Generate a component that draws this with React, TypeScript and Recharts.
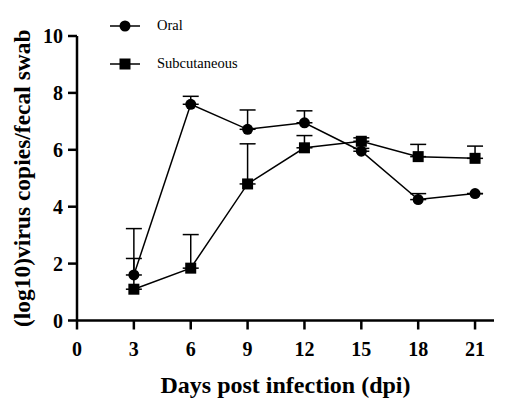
import React from 'react';
import { LineChart, Line, XAxis, YAxis, ErrorBar, Legend, Label } from 'recharts';

const days = [3, 6, 9, 12, 15, 18, 21];
const oralMean = [1.6, 7.6, 6.72, 6.95, 5.95, 4.25, 4.46];
const oralSd = [1.63, 0.28, 0.68, 0.42, 0.1, 0.21, 0];
const subMean = [1.1, 1.84, 4.8, 6.07, 6.3, 5.76, 5.7];
const subSd = [1.08, 1.18, 1.41, 0.43, 0.12, 0.43, 0.43];
const xTicks = [0, 3, 6, 9, 12, 15, 18, 21];
const yTicks = [0, 2, 4, 6, 8, 10];

const data = days.map((d, i) => ({
  day: d,
  oral: oralMean[i],
  oralErr: [0, oralSd[i]],
  sub: subMean[i],
  subErr: [0, subSd[i]],
}));

const FONT = '"Liberation Serif", "Times New Roman", serif';

const SquareDot = (props: any) => {
  const { cx, cy } = props;
  if (cx == null || cy == null) return null;
  return <rect x={cx - 5.5} y={cy - 5.5} width={11} height={11} fill="#000" />;
};

const YLabel = (props: any) => {
  const vb = props.viewBox || {};
  const x = (vb.x || 0) + 22;
  const y = (vb.y || 0) + (vb.height || 0) / 2;
  return (
    <text
      x={x}
      y={y}
      transform={`rotate(-90, ${x}, ${y})`}
      textAnchor="middle"
      dominantBaseline="central"
      fill="#000"
      fontSize={23.5}
      fontWeight="bold"
      fontFamily={FONT}
    >
      (log10)virus copies/fecal swab
    </text>
  );
};

const LegendContent = () => (
  <div style={{ fontFamily: FONT, fontSize: 14.5, color: '#000' }}>
    <div style={{ position: 'absolute', left: 110, top: 17, display: 'flex', alignItems: 'center' }}>
      <svg width={32} height={14}>
        <line x1={0} y1={7} x2={30} y2={7} stroke="#000" strokeWidth={1.5} />
        <circle cx={15} cy={7} r={5.5} fill="#000" />
      </svg>
      <span style={{ marginLeft: 15, whiteSpace: 'nowrap' }}>Oral</span>
    </div>
    <div style={{ position: 'absolute', left: 110, top: 55, display: 'flex', alignItems: 'center' }}>
      <svg width={32} height={14}>
        <line x1={0} y1={7} x2={30} y2={7} stroke="#000" strokeWidth={1.5} />
        <rect x={9.5} y={1.5} width={11} height={11} fill="#000" />
      </svg>
      <span style={{ marginLeft: 15, whiteSpace: 'nowrap' }}>Subcutaneous</span>
    </div>
  </div>
);

export default function App() {
  return (
    <div style={{ position: 'absolute', left: 0, top: 0, width: 514, height: 406, background: '#fff' }}>
      <LineChart
        width={514}
        height={406}
        data={data}
        margin={{ top: 36, right: 20, bottom: 0, left: 0 }}
      >
        <XAxis
          dataKey="day"
          type="number"
          domain={[0, 22]}
          ticks={xTicks}
          interval={0}
          height={85.5}
          tickSize={9}
          tickMargin={12}
          axisLine={{ stroke: '#000', strokeWidth: 2.5 }}
          tickLine={{ stroke: '#000', strokeWidth: 2.5 }}
          tick={{ fill: '#000', fontSize: 20, fontWeight: 'bold', fontFamily: FONT }}
          label={{
            value: 'Days post infection (dpi)',
            position: 'insideBottom',
            offset: 13,
            style: { fill: '#000', fontSize: 24, fontWeight: 'bold', fontFamily: FONT },
          }}
        />
        <YAxis
          type="number"
          domain={[0, 10]}
          ticks={yTicks}
          interval={0}
          width={77}
          tickSize={9}
          tickMargin={5}
          axisLine={{ stroke: '#000', strokeWidth: 2.5 }}
          tickLine={{ stroke: '#000', strokeWidth: 2.5 }}
          tick={{ fill: '#000', fontSize: 20, fontWeight: 'bold', fontFamily: FONT }}
        >
          <Label content={<YLabel />} />
        </YAxis>
        <Legend content={<LegendContent />} wrapperStyle={{ position: 'absolute', left: 0, top: 0, width: 0, height: 0 }} />
        <Line
          dataKey="oral"
          name="Oral"
          stroke="#000"
          strokeWidth={1.5}
          isAnimationActive={false}
          dot={{ r: 5.5, fill: '#000', stroke: '#000', strokeWidth: 0 }}
          activeDot={false}
        >
          <ErrorBar dataKey="oralErr" width={8} stroke="#000" strokeWidth={1.5} direction="y" />
        </Line>
        <Line
          dataKey="sub"
          name="Subcutaneous"
          stroke="#000"
          strokeWidth={1.5}
          isAnimationActive={false}
          dot={<SquareDot />}
          activeDot={false}
        >
          <ErrorBar dataKey="subErr" width={8} stroke="#000" strokeWidth={1.5} direction="y" />
        </Line>
      </LineChart>
    </div>
  );
}
